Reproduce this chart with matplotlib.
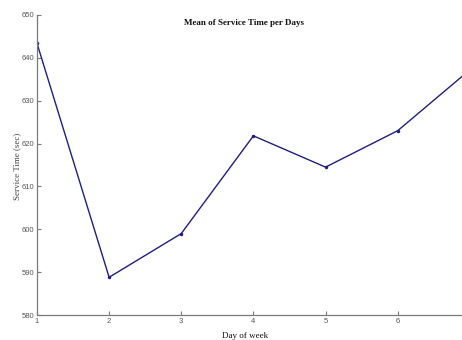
import matplotlib
matplotlib.use("Agg")
import matplotlib.pyplot as plt

days = [1, 2, 3, 4, 5, 6, 7]
service_time = [643.4, 588.8, 599.0, 621.8, 614.5, 623.0, 637.2]
y_ticks = [580, 590, 600, 610, 620, 630, 640, 650]
x_ticks = [1, 2, 3, 4, 5, 6]

line_color = "#1f1f80"
axis_color = "#7a7a7a"

fig = plt.figure(figsize=(4.62, 3.4), dpi=100)
ax = fig.add_axes([0.080, 0.0735, 0.937, 0.8825])

ax.plot(days, service_time, color=line_color, linewidth=1.0,
        marker='.', markersize=3)

ax.set_xlim(1, 7)
ax.set_ylim(580, 650)
ax.set_xticks(x_ticks)
ax.set_yticks(y_ticks)

for side in ("top", "right"):
    ax.spines[side].set_visible(False)
for side in ("left", "bottom"):
    ax.spines[side].set_color(axis_color)
    ax.spines[side].set_linewidth(0.9)

ax.tick_params(direction="in", length=3, width=0.8, color=axis_color,
               labelsize=5.5, labelcolor="#555555", pad=2)
for lab in ax.get_xticklabels() + ax.get_yticklabels():
    lab.set_fontfamily("Liberation Sans")

fig.text(244 / 462, 1 - 23 / 340, "Mean of Service Time per Days",
         ha="center", va="center", fontsize=6.5, fontweight="bold",
         family="Liberation Serif", color="#111111")
fig.text(17 / 462, 1 - 166 / 340, "Service Time (sec)", rotation=90,
         ha="center", va="center", fontsize=6.5,
         family="Liberation Serif", color="#444444")
fig.text(245 / 462, 1 - 336 / 340, "Day of week",
         ha="center", va="center", fontsize=6.5,
         family="Liberation Serif", color="#111111")

fig.savefig("out.png", dpi=100)
